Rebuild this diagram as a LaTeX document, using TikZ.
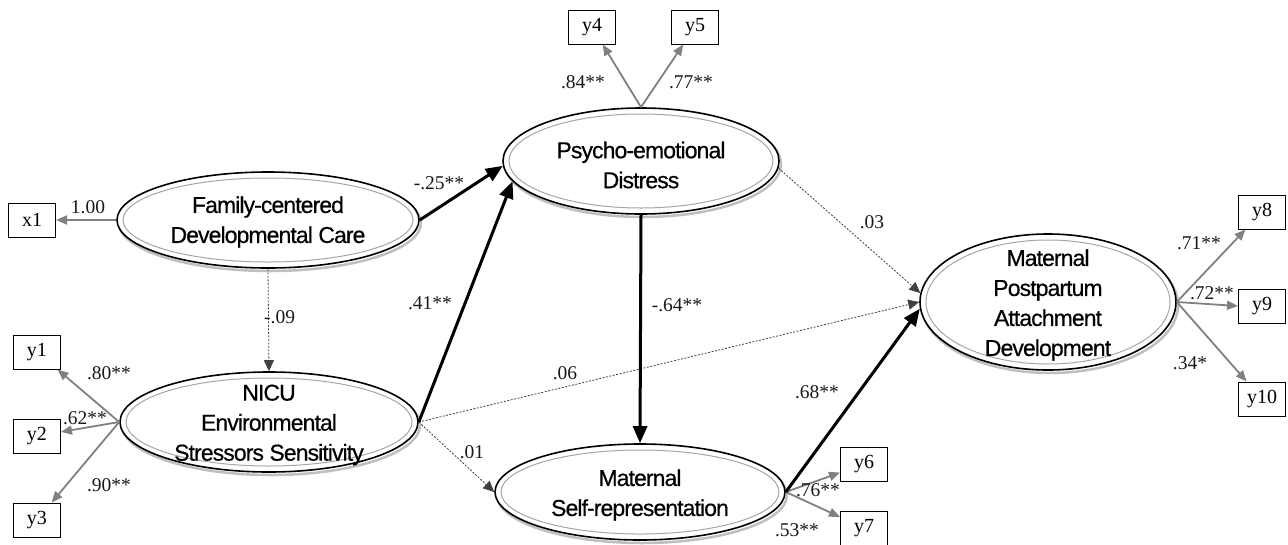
\documentclass[tikz,border=0pt]{standalone}
\usepackage{fontspec}
\setmainfont{Liberation Serif}
\newfontfamily\latfont[LetterSpace=-4,FakeBold=0.5]{Liberation Sans}
\usetikzlibrary{shapes.geometric,arrows.meta}
\tikzset{
  obs/.style={draw=black, line width=1pt, minimum width=47pt, minimum height=34pt, inner sep=0pt, font=\fontsize{20}{20}\selectfont, fill=white},
  lat/.style={ellipse, draw=black, line width=1.6pt, inner sep=0pt},
  lattext/.style={align=center, inner sep=0pt, font=\latfont\fontsize{23}{30}\selectfont},
  ind/.style={draw=black!50, line width=1.8pt, -{Triangle[length=11pt,width=9pt]}, color=black!50},
  strong/.style={draw=black, line width=3pt, -{Triangle[length=17pt,width=14pt]}},
  ns/.style={draw=black!75, line width=0.8pt, dash pattern=on 2pt off 1.5pt, -{Triangle[length=11pt,width=10pt]}},
  lbl/.style={font=\fontsize{19.5}{19.5}\selectfont, inner sep=0pt, text=black!90},
  inner/.style={draw=black!35, line width=1pt},
  shadowring/.style={draw=black!25, line width=2.5pt}
}
\begin{document}
\begin{tikzpicture}[x=1pt,y=-1pt]
\useasboundingbox (0,0) rectangle (1288,544);

% shadows
\draw[shadowring] (270,223) ellipse [x radius=151pt, y radius=48pt];
\draw[shadowring] (271,425) ellipse [x radius=149pt, y radius=50pt];
\draw[shadowring] (643,164) ellipse [x radius=138pt, y radius=53pt];
\draw[shadowring] (642,495) ellipse [x radius=145pt, y radius=48pt];
\draw[shadowring] (1050,305) ellipse [x radius=128pt, y radius=68pt];

% latent variables
\node[lat, fill=white, minimum width=302pt, minimum height=96pt] (fcdc) at (268,220) {};
\node[lat, fill=white, minimum width=298pt, minimum height=100pt] (nicu) at (269,422) {};
\node[lat, fill=white, minimum width=276pt, minimum height=106pt] (pd) at (641,161) {};
\node[lat, fill=white, minimum width=290pt, minimum height=96pt] (msr) at (640,492) {};
\node[lat, fill=white, minimum width=256pt, minimum height=136pt] (mpad) at (1048,302) {};

\draw[inner] (fcdc.center) ellipse [x radius=145pt, y radius=42pt];
\draw[inner] (nicu.center) ellipse [x radius=143pt, y radius=44pt];
\draw[inner] (pd.center) ellipse [x radius=132pt, y radius=47pt];
\draw[inner] (msr.center) ellipse [x radius=139pt, y radius=42pt];
\draw[inner] (mpad.center) ellipse [x radius=122pt, y radius=62pt];

\node[lattext] (fcdct) at (268,222) {Family-centered\\Developmental Care};
\node[lattext] (nicut) at (269,425) {NICU\\Environmental\\Stressors Sensitivity};
\node[lattext] (pdt) at (641,165) {Psycho-emotional\\Distress};
\node[lattext] (msrt) at (640,495) {Maternal\\Self-representation};
\node[lattext] (mpadt) at (1048,305) {Maternal\\Postpartum\\Attachment\\Development};

% observed variables
\node[obs] (x1) at (32,220) {x1};
\node[obs] (y1) at (37,352) {y1};
\node[obs] (y2) at (37,436) {y2};
\node[obs] (y3) at (37,520) {y3};
\node[obs] (y4) at (592,27) {y4};
\node[obs] (y5) at (695,27) {y5};
\node[obs] (y6) at (864,464) {y6};
\node[obs] (y7) at (864,528) {y7};
\node[obs] (y8) at (1262,212) {y8};
\node[obs] (y9) at (1262,306) {y9};
\node[obs] (y10) at (1262,399) {y10};

% measurement paths
\draw[ind] (fcdc.west) -- (x1);
\draw[ind] (nicu.west) -- (y1);
\draw[ind] (nicu.west) -- (y2);
\draw[ind] (nicu.west) -- (y3);
\draw[ind] (pd.north) -- (y4);
\draw[ind] (pd.north) -- (y5);
\draw[ind] (msr.east) -- (y6);
\draw[ind] (msr.east) -- (y7);
\draw[ind] (mpad.east) -- (y8);
\draw[ind] (mpad.east) -- (y9.west);
\draw[ind] (mpad.east) -- (y10);

% structural paths
\draw[ns] (fcdc.south) -- (nicu.north);
\draw[ns] (pd.357) -- (mpad.176);
\draw[ns] (nicu.east) -- (mpad.west);
\draw[ns] (nicu.east) -- (msr.west);
\draw[strong] (fcdc.east) -- (pd.182);
\draw[strong] (nicu.east) -- (pd.189);
\draw[strong] (pd.south) -- (msr.north);
\draw[strong] (msr.east) -- (mpad.183);

% labels
\node[lbl] (l1) at (88,207) {1.00};
\node[lbl] (l2) at (109,373) {.80**};
\node[lbl] (l3) at (85,418) {.62**};
\node[lbl] (l4) at (109,485) {.90**};
\node[lbl] (l5) at (583,82) {.84**};
\node[lbl] (l6) at (691,82) {.77**};
\node[lbl] (l7) at (1199,243) {.71**};
\node[lbl] (l8) at (1212,293) {.72**};
\node[lbl] (l9) at (1190,363) {.34*};
\node[lbl] (l10) at (818,490) {.76**};
\node[lbl] (l11) at (797,530) {.53**};
\node[lbl] (l12) at (439,183) {-.25**};
\node[lbl] (l13) at (430,303) {.41**};
\node[lbl, anchor=west] (l14) at (264,317) {-.09};
\node[lbl] (l15) at (677,305) {-.64**};
\node[lbl] (l16) at (565,373) {.06};
\node[lbl] (l17) at (872,222) {.03};
\node[lbl] (l18) at (472,452) {.01};
\node[lbl] (l19) at (817,392) {.68**};
\end{tikzpicture}
\end{document}
